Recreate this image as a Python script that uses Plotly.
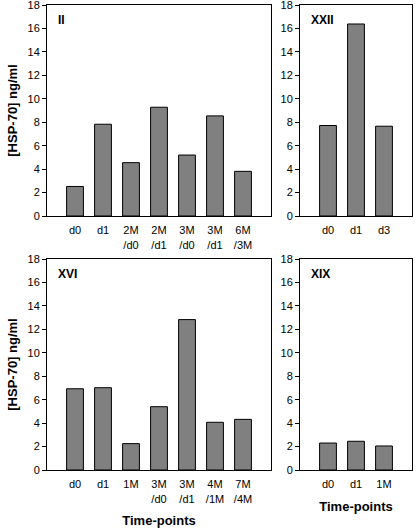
import plotly.graph_objects as go

# Data
cat_II = ["d0", "d1", "2M<br>/d0", "2M<br>/d1", "3M<br>/d0", "3M<br>/d1", "6M<br>/3M"]
val_II = [2.52, 7.83, 4.55, 9.28, 5.2, 8.54, 3.81]

cat_XXII = ["d0", "d1", "d3"]
val_XXII = [7.72, 16.38, 7.66]

cat_XVI = ["d0", "d1", "1M", "3M<br>/d0", "3M<br>/d1", "4M<br>/1M", "7M<br>/4M"]
val_XVI = [6.93, 7.02, 2.25, 5.4, 12.83, 4.07, 4.32]

cat_XIX = ["d0", "d1", "1M"]
val_XIX = [2.3, 2.45, 2.05]

y_ticks = [0, 2, 4, 6, 8, 10, 12, 14, 16, 18]
panel_names = ["II", "XXII", "XVI", "XIX"]

W, H = 416, 530
font = "Liberation Sans, Arial, sans-serif"

fig = go.Figure()

panels = [
    (cat_II, val_II, "x", "y"),
    (cat_XXII, val_XXII, "x2", "y2"),
    (cat_XVI, val_XVI, "x3", "y3"),
    (cat_XIX, val_XIX, "x4", "y4"),
]
for cats, vals, xa, ya in panels:
    fig.add_trace(go.Bar(
        x=list(range(len(cats))), y=vals, xaxis=xa, yaxis=ya,
        width=0.6, marker=dict(color="#808080", line=dict(color="black", width=1)),
        showlegend=False, hoverinfo="skip",
    ))

def xd(a, b):
    return [a / W, b / W]

def yd(top, bottom):
    return [(H - bottom) / H, (H - top) / H]

x_left = xd(47, 271)
x_right = xd(300, 412)
y_top = yd(5, 216)
y_bot = yd(259, 470)

def xaxis(dom, anchor, cats, title=None):
    d = dict(
        domain=dom, anchor=anchor, range=[-1, len(cats)], automargin=False,
        tickmode="array", tickvals=list(range(len(cats))), ticktext=cats,
        showline=True, mirror=True, linecolor="black", linewidth=1,
        ticks="", showgrid=False, zeroline=False,
        tickfont=dict(family=font, size=11, color="black"),
        ticklabelstandoff=4,
    )
    if title:
        d["title"] = dict(text="<b>" + title + "</b>", standoff=12,
                          font=dict(family=font, size=13, color="black"))
    return d

def yaxis(dom, anchor, title=None):
    d = dict(
        domain=dom, anchor=anchor, range=[0, 18], automargin=False,
        tickmode="array", tickvals=y_ticks, ticklabeloverflow="allow",
        showline=True, mirror=True, linecolor="black", linewidth=1,
        ticks="outside", ticklen=4, tickcolor="black", tickwidth=1,
        showgrid=False, zeroline=False,
        tickfont=dict(family=font, size=11, color="black"),
    )
    if title:
        d["title"] = dict(text="<b>" + title + "</b>", standoff=6,
                          font=dict(family=font, size=13, color="black"))
    return d

ytitle = "[HSP-70] ng/ml"
fig.update_layout(
    width=W, height=H, autosize=False,
    margin=dict(l=0, r=0, t=0, b=0),
    paper_bgcolor="white", plot_bgcolor="white",
    bargap=0.4,
    xaxis=xaxis(x_left, "y", cat_II),
    yaxis=yaxis(y_top, "x", ytitle),
    xaxis2=xaxis(x_right, "y2", cat_XXII),
    yaxis2=yaxis(y_top, "x2"),
    xaxis3=xaxis(x_left, "y3", cat_XVI, "Time-points"),
    yaxis3=yaxis(y_bot, "x3", ytitle),
    xaxis4=xaxis(x_right, "y4", cat_XIX, "Time-points"),
    yaxis4=yaxis(y_bot, "x4"),
)

for name, xa, ya in zip(panel_names, ["x", "x2", "x3", "x4"], ["y", "y2", "y3", "y4"]):
    fig.add_annotation(
        text="<b>" + name + "</b>", xref=xa + " domain", yref=ya + " domain",
        x=0.04 if xa in ("x", "x3") else 0.08, y=0.97, xanchor="left", yanchor="top",
        showarrow=False, font=dict(family=font, size=12, color="black"),
    )

fig.write_html(
    "out.html",
    config={"displayModeBar": False, "staticPlot": True},
    post_script="document.body.style.margin='0';document.body.style.overflow='hidden';",
)
